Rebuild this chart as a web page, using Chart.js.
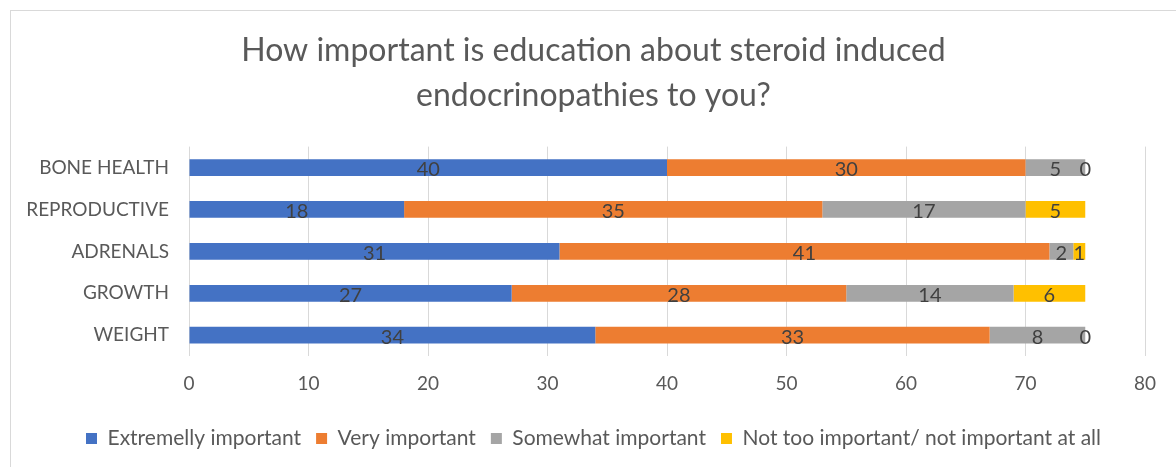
<!DOCTYPE html>
<html><head><meta charset="utf-8">
<script src="https://cdn.jsdelivr.net/npm/chart.js@4.4.0/dist/chart.umd.min.js"></script>
<style>
html,body{margin:0;padding:0;background:#fff;overflow:hidden;}
#wrap{position:absolute;left:10px;top:10px;width:1175px;height:470px;border:1px solid #d9d9d9;}
canvas{display:block;}
</style></head><body>
<div id="wrap"><canvas id="c" width="1165" height="456"></canvas></div>
<script>
const categories = ["BONE HEALTH","REPRODUCTIVE","ADRENALS","GROWTH","WEIGHT"];
const seriesNames = ["Extremelly important","Very important","Somewhat important","Not too important/ not important at all"];
const extremely = [40,18,31,27,34];
const very = [30,35,41,28,33];
const somewhat = [5,17,2,14,8];
const notToo = [0,5,1,6,0];
const xTicks = [0,10,20,30,40,50,60,70,80];
const colors = ["#4472c4","#ed7d31","#a5a5a5","#ffc000"];
const FONT = "Lato, 'Open Sans', sans-serif";

const valueLabels = {
  id:'valueLabels',
  afterDatasetsDraw(chart){
    const ctx = chart.ctx;
    ctx.save();
    ctx.font = "20px " + FONT;
    ctx.fillStyle = "#404040";
    ctx.textAlign = "center";
    ctx.textBaseline = "middle";
    chart.data.datasets.forEach((ds,i)=>{
      chart.getDatasetMeta(i).data.forEach((bar,j)=>{
        const x = (bar.x + bar.base)/2;
        ctx.fillText(String(ds.data[j]), x, bar.y+2);
      });
    });
    ctx.restore();
  }
};

new Chart(document.getElementById('c'),{
  type:'bar',
  data:{
    labels:categories,
    datasets:[extremely,very,somewhat,notToo].map((d,i)=>({
      label:seriesNames[i], data:d, backgroundColor:colors[i],
      borderWidth:0, barPercentage:0.8, categoryPercentage:0.5
    }))
  },
  options:{
    indexAxis:'y',
    responsive:false,
    animation:false,
    layout:{padding:{left:0,right:0,top:0,bottom:8}},
    scales:{
      x:{stacked:true,min:0,max:80,
        afterBuildTicks(s){s.ticks = xTicks.map(v=>({value:v}));},
        afterFit(s){s.height += 2;},
        grid:{color:"#d9d9d9",lineWidth:1,drawTicks:false},
        border:{display:false},
        ticks:{color:"#595959",font:{family:FONT,size:19},padding:16}
      },
      y:{stacked:true,
        grid:{display:false},
        border:{display:false},
        afterFit(s){s.width=178;},
        ticks:{color:"#595959",font:{family:FONT,size:19},padding:12}
      },
      yRight:{type:'category',position:'right',display:true,
        grid:{display:false},border:{display:false},ticks:{display:false},
        afterFit(s){s.width=31;}
      }
    },
    plugins:{
      title:{display:true,text:["How important is education about steroid induced","endocrinopathies to you?"],
        color:"#595959",font:{family:FONT,size:32,weight:'normal',lineHeight:1.4},padding:{top:17,bottom:29}},
      legend:{position:'bottom',
        labels:{color:"#595959",font:{family:FONT,size:21},boxWidth:11,boxHeight:11,padding:15},
      },
      tooltip:{enabled:false}
    }
  },
  plugins:[valueLabels]
});
</script></body></html>
